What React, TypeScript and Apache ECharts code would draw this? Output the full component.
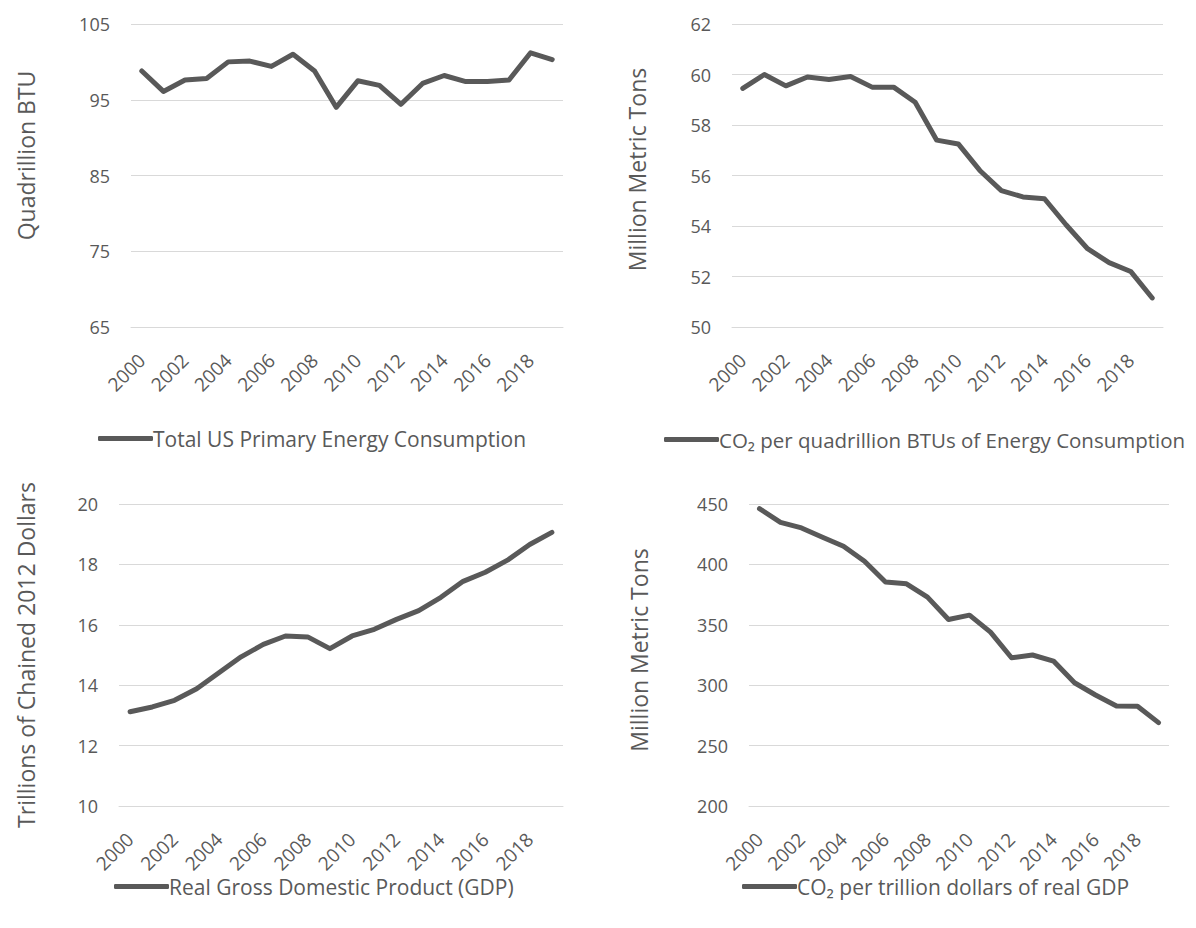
import React, { useEffect, useRef } from "react";
import * as echarts from "echarts";

const years = ["2000","2001","2002","2003","2004","2005","2006","2007","2008","2009","2010","2011","2012","2013","2014","2015","2016","2017","2018","2019"];
const energyConsumption = [98.8, 96.1, 97.6, 97.8, 100.0, 100.1, 99.4, 101.0, 98.8, 94.0, 97.5, 96.9, 94.4, 97.15, 98.2, 97.4, 97.4, 97.6, 101.2, 100.3];
const co2PerBtu = [59.45, 60.0, 59.55, 59.9, 59.8, 59.92, 59.5, 59.5, 58.9, 57.4, 57.25, 56.2, 55.4, 55.15, 55.08, 54.05, 53.1, 52.55, 52.2, 51.15];
const realGdp = [13.12, 13.28, 13.5, 13.88, 14.41, 14.94, 15.35, 15.63, 15.6, 15.21, 15.63, 15.85, 16.18, 16.47, 16.91, 17.44, 17.74, 18.14, 18.66, 19.06];
const co2PerGdp = [446.1, 434.8, 430.2, 422.5, 415.0, 402.6, 385.5, 383.9, 372.9, 354.4, 358.0, 343.9, 322.7, 325.0, 320.0, 302.0, 291.9, 282.8, 282.5, 269.0];

const seriesNames = [
  "Total US Primary Energy Consumption",
  "CO\u2082 per quadrillion BTUs of Energy Consumption",
  "Real Gross Domestic Product (GDP)",
  "CO\u2082 per trillion dollars of real GDP",
];
const axisNames = ["Quadrillion BTU", "Million Metric Tons", "Trillions of Chained 2012 Dollars", "Million Metric Tons"];

const FONT = "'Open Sans', sans-serif";
const TEXT = "#595959";
const GRIDC = "#d9d9d9";

export default function App() {
  const ref = useRef<HTMLDivElement>(null);
  useEffect(() => {
    if (!ref.current) return;
    const chart = echarts.init(ref.current, undefined, { renderer: "svg" });
    const grids = [
      { left: 131, width: 432, top: 24, height: 303 },
      { left: 732, width: 431, top: 24, height: 303 },
      { left: 119, width: 444, top: 504, height: 302 },
      { left: 749, width: 420, top: 504, height: 302 },
    ];
    const yCfg = [
      { min: 65, max: 105, interval: 10, gap: 94, shift: 40 },
      { min: 50, max: 62, interval: 2, gap: 84, shift: 12 },
      { min: 10, max: 20, interval: 2, gap: 82, shift: 0 },
      { min: 200, max: 450, interval: 50, gap: 99, shift: 10 },
    ];
    const data = [energyConsumption, co2PerBtu, realGdp, co2PerGdp];
    const legendPos = [
      { left: 93, top: 423, size: 21 },
      { left: 659, top: 424, size: 20.5 },
      { left: 109, top: 871, size: 21 },
      { left: 737, top: 871, size: 21 },
    ];
    chart.setOption({
      animation: false,
      backgroundColor: "#ffffff",
      textStyle: { fontFamily: FONT },
      grid: grids,
      xAxis: grids.map((_, i) => ({
        type: "category",
        gridIndex: i,
        data: years,
        boundaryGap: true,
        axisTick: { show: false },
        axisLine: { show: true, lineStyle: { color: GRIDC, width: 1 } },
        axisLabel: { rotate: 45, interval: 1, color: TEXT, fontSize: 19, fontFamily: FONT, margin: 30 },
      })),
      yAxis: yCfg.map((c, i) => ({
        type: "value",
        gridIndex: i,
        min: c.min,
        max: c.max,
        interval: c.interval,
        name: axisNames[i],
        nameLocation: "middle",
        nameGap: c.gap,
        nameTextStyle: { color: TEXT, fontSize: 23, fontFamily: FONT, padding: [0, 0, 0, c.shift] },
        axisLine: { show: false },
        axisTick: { show: false },
        axisLabel: { color: TEXT, fontSize: 18, fontFamily: FONT, margin: 21 },
        splitLine: { lineStyle: { color: GRIDC, width: 1 } },
      })),
      legend: legendPos.map((p, i) => ({
        show: true,
        data: [seriesNames[i]],
        left: p.left,
        top: p.top,
        icon: "roundRect",
        itemWidth: 55,
        itemHeight: 5,
        textStyle: { color: TEXT, fontSize: p.size, fontFamily: FONT, padding: [0, 0, 0, -5] },
      })),
      series: data.map((d, i) => ({
        type: "line",
        name: seriesNames[i],
        xAxisIndex: i,
        yAxisIndex: i,
        data: d,
        symbol: "none",
        smooth: false,
        color: "#595959",
        lineStyle: { color: "#595959", width: 5, cap: "round", join: "round" },
      })),
    });
    return () => chart.dispose();
  }, []);
  return (
    <div
      ref={ref}
      style={{ position: "fixed", left: 0, top: 0, width: 1196, height: 928 }}
    />
  );
}
